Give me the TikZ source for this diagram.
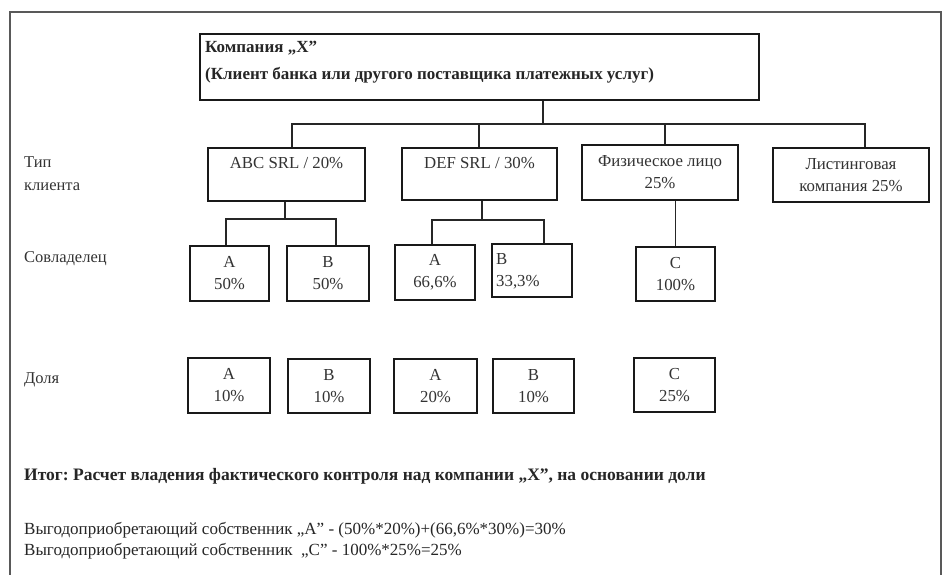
\documentclass[tikz,border=0pt]{standalone}
\usepackage{fontspec}
\setmainfont{Liberation Serif}
\frenchspacing
\begin{document}
\begin{tikzpicture}[x=1pt,y=-1pt,
  box/.style={draw=black!90, line width=2.8pt, rectangle, inner sep=0pt, align=center,
    font=\fontsize{16.8}{22}\selectfont, text=black!80},
  conn/.style={draw=black!85, line width=1.4pt},
  lbl/.style={anchor=west, inner sep=0pt, font=\fontsize{16.5}{18}\selectfont, text=black!80},
  sumtext/.style={anchor=west, inner sep=0pt, font=\fontsize{17}{19}\selectfont, text=black!85}]
\useasboundingbox (0,0) rectangle (943,575);
\fill[white] (0,0) rectangle (943,575);
% outer frame (open at the bottom)
\draw[black!65, line width=1.1pt] (10,575) -- (10,12) -- (941,12) -- (941,575);

% top company box
\node[box, minimum width=559pt, minimum height=66pt] (top) at (479.5,67) {};
\node[anchor=west, inner sep=0pt, align=left, font=\bfseries\fontsize{17}{27}\selectfont, text=black!85]
  (toptxt) at (205,62) {Компания „X”\\(Клиент банка или другого поставщика платежных услуг)};

% client type row
\node[box, minimum width=157pt, minimum height=53pt] (abc) at (286.5,174.5) {};
\node[inner sep=0pt, font=\fontsize{16.8}{18}\selectfont, text=black!80] (abctxt) at (286.5,163) {ABC SRL / 20\%};
\node[box, minimum width=155pt, minimum height=52pt] (def) at (479.5,174) {};
\node[inner sep=0pt, font=\fontsize{16.8}{18}\selectfont, text=black!80] (deftxt) at (479.5,163) {DEF SRL / 30\%};
\node[box, minimum width=156pt, minimum height=55pt] (fiz) at (660,172.5) {Физическое лицо\\25\%};
\node[box, minimum width=156pt, minimum height=54pt] (lst) at (851,175) {Листинговая\\компания 25\%};

% co-owner row
\node[box, minimum width=79pt, minimum height=55pt] (ca) at (229.5,273.5) {A\\50\%};
\node[box, minimum width=82pt, minimum height=55pt] (cb) at (328,273.5) {B\\50\%};
\node[box, minimum width=80pt, minimum height=55pt] (da) at (435,272.5) {A\\66,6\%};
\node[box, minimum width=80pt, minimum height=53pt] (db) at (532,270.5) {};
\node[anchor=west, inner sep=0pt, align=left, font=\fontsize{16.8}{22}\selectfont, text=black!80]
  (dbtxt) at (496,271) {B\\33,3\%};
\node[box, minimum width=79pt, minimum height=54pt] (fc) at (675.5,274) {C\\100\%};

% share row
\node[box, minimum width=82pt, minimum height=55pt] (sa1) at (229,385.5) {A\\10\%};
\node[box, minimum width=82pt, minimum height=54pt] (sb1) at (329,386) {B\\10\%};
\node[box, minimum width=83pt, minimum height=54pt] (sa2) at (435.5,386) {A\\20\%};
\node[box, minimum width=81pt, minimum height=54pt] (sb2) at (533.5,386) {B\\10\%};
\node[box, minimum width=81pt, minimum height=54pt] (sc) at (674.5,385) {C\\25\%};

% row labels
\node[lbl] (l1) at (24,162) {Тип};
\node[lbl] (l2) at (24,187) {клиента};
\node[lbl] (l3) at (24,259) {Совладелец};
\node[lbl] (l4) at (24,380) {Доля};

% connectors: company to client types
\coordinate (tj) at (543,124);
\coordinate (bus1) at (292,124);
\coordinate (bus2) at (479,124);
\coordinate (bus3) at (665,124);
\coordinate (bus4) at (865,124);
\draw[conn] (top.south -| tj) -- (tj);
\draw[conn] (bus1 |- abc.north) -- (bus1) -- (bus4) -- (bus4 |- lst.north);
\draw[conn] (bus2) -- (bus2 |- def.north);
\draw[conn] (bus3) -- (bus3 |- fiz.north);

% ABC to co-owners
\coordinate (s1) at (285,219);
\coordinate (s1l) at (226,219);
\coordinate (s1r) at (336,219);
\draw[conn] (abc.south -| s1) -- (s1);
\draw[conn] (s1l |- ca.north) -- (s1l) -- (s1r) -- (s1r |- cb.north);

% DEF to co-owners
\coordinate (s2) at (482,220);
\coordinate (s2l) at (432,220);
\coordinate (s2r) at (544,220);
\draw[conn] (def.south -| s2) -- (s2);
\draw[conn] (s2l |- da.north) -- (s2l) -- (s2r) -- (s2r |- db.north);

% person to C
\draw[conn] (fiz.south -| fc.north) -- (fc.north);

% summary
\node[sumtext, font=\bfseries\fontsize{17.5}{19}\selectfont] (sum0) at (24,476)
  {Итог: Расчет владения фактического контроля над компании „X”, на основании доли};
\node[sumtext] (sum1) at (24,530)
  {Выгодоприобретающий собственник „A” - (50\%*20\%)+(66,6\%*30\%)=30\%};
\node[sumtext] (sum2) at (24,551)
  {Выгодоприобретающий собственник \ „C” - 100\%*25\%=25\%};
\end{tikzpicture}
\end{document}
